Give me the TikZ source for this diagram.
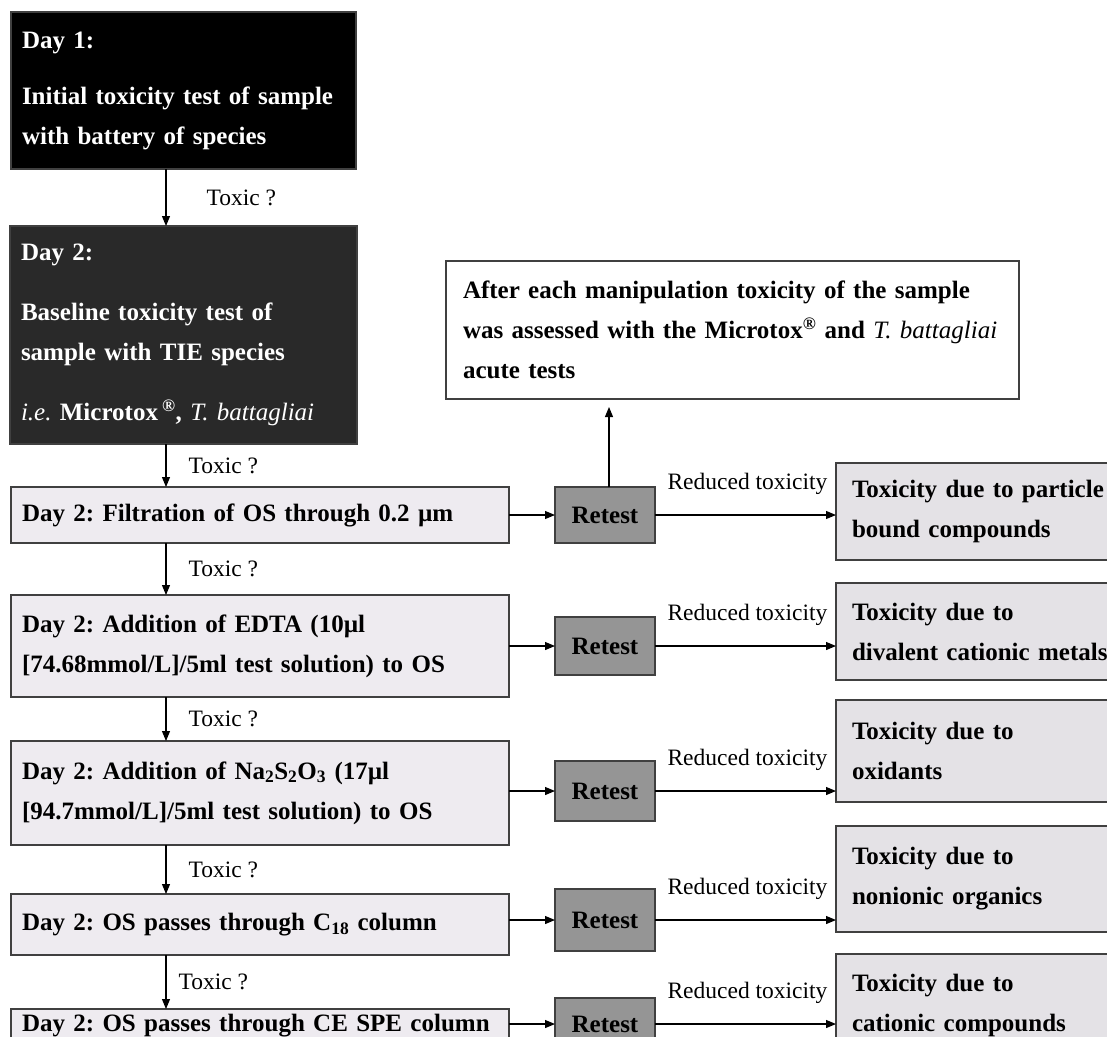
\documentclass[tikz,border=0pt]{standalone}
\usepackage{fontspec}
\setmainfont{Liberation Serif}
\usepackage{xcolor}
\usepackage{tikz}
\usetikzlibrary{arrows.meta}
\frenchspacing

\definecolor{dayfill}{HTML}{292929}
\definecolor{stepfill}{HTML}{EEEBF0}
\definecolor{retestfill}{HTML}{959595}
\definecolor{resultfill}{HTML}{E4E2E6}
\definecolor{edgegray}{HTML}{404040}

\begin{document}
\begin{tikzpicture}[x=1pt, y=-1pt,
    box/.style={draw=edgegray, line width=1.1pt, anchor=north west, outer sep=0pt,
      inner xsep=11pt, inner ysep=0pt, align=left,
      font=\bfseries\fontsize{25}{40}\selectfont},
    daybox/.style={box, fill=black, text=white},
    stepbox/.style={box, fill=stepfill, text width=476pt},
    retestbox/.style={box, fill=retestfill, align=center, inner xsep=0pt, minimum width=100pt},
    resultbox/.style={box, fill=resultfill, inner xsep=16pt, text width=270pt},
    notebox/.style={box, fill=white, inner xsep=17pt, text width=539pt},
    lbl/.style={font=\fontsize{23.5}{28}\selectfont, inner sep=0pt},
    arr/.style={-{Triangle[length=10pt,width=8pt]}, line width=1.1pt}]

    \useasboundingbox (0,0) rectangle (1107,1036);
    \clip (0,0) rectangle (1107,1036);

    % left column
    \node[daybox, text width=323pt, minimum height=157pt] (day1) at (11,12)
      {Day 1:\\[16pt]Initial toxicity test of sample\\with battery of species};
    \node[daybox, fill=dayfill, text width=325pt, minimum height=218pt] (day2) at (10,226)
      {Day 2:\\[20pt]Baseline toxicity test of\\sample with TIE species\\[20pt]%
       {\mdseries\itshape i.e.} Microtox\,\textsuperscript{®}, {\mdseries\itshape T. battagliai}};
    \node[stepbox, minimum height=56pt] (s1) at (11,487)
      {Day 2: Filtration of OS through 0.2 µm};
    \node[stepbox, minimum height=102pt] (s2) at (11,595)
      {Day 2: Addition of EDTA (10µl\\{[}74.68mmol/L{]}/5ml test solution) to OS};
    \node[stepbox, minimum height=104pt] (s3) at (11,741)
      {Day 2: Addition of Na\textsubscript{2}S\textsubscript{2}O\textsubscript{3} (17µl\\{[}94.7mmol/L{]}/5ml test solution) to OS};
    \node[stepbox, minimum height=61pt] (s4) at (11,894)
      {Day 2: OS passes through C\textsubscript{18} column};
    \node[stepbox, minimum height=34pt] (s5) at (11,1009)
      {Day 2: OS passes through CE SPE column};

    % retests
    \node[retestbox, minimum height=56pt] (r1) at (555,487) {Retest};
    \node[retestbox, minimum height=58pt] (r2) at (555,617) {Retest};
    \node[retestbox, minimum height=60pt] (r3) at (555,761) {Retest};
    \node[retestbox, minimum height=62pt] (r4) at (555,889) {Retest};
    \node[retestbox, minimum height=52pt] (r5) at (555,998) {Retest};

    % outcomes
    \node[resultbox, minimum height=97pt] (res1) at (836,463) {Toxicity due to particle\\bound compounds};
    \node[resultbox, minimum height=97pt] (res2) at (836,583) {Toxicity due to\\divalent cationic metals};
    \node[resultbox, minimum height=102pt] (res3) at (836,700) {Toxicity due to\\oxidants};
    \node[resultbox, minimum height=106pt] (res4) at (836,826) {Toxicity due to\\nonionic organics};
    \node[resultbox, minimum height=102pt] (res5) at (836,954) {Toxicity due to\\cationic compounds};

    \node[notebox, minimum height=138pt] (note) at (446,261)
      {After each manipulation toxicity of the sample\\was assessed with the Microtox\textsuperscript{®} and {\mdseries\itshape T. battagliai}\\acute tests};

    % down the left side
    \coordinate (spine) at (166,0);
    \draw[arr] (day1.south -| spine) -- (day2.north -| spine) node[lbl, midway, anchor=west, xshift=40pt] {Toxic ?};
    \draw[arr] (day2.south -| spine) -- (s1.north -| spine) node[lbl, midway, anchor=west, xshift=22pt] {Toxic ?};
    \draw[arr] (s1.south -| spine) -- (s2.north -| spine) node[lbl, midway, anchor=west, xshift=22pt] {Toxic ?};
    \draw[arr] (s2.south -| spine) -- (s3.north -| spine) node[lbl, midway, anchor=west, xshift=22pt] {Toxic ?};
    \draw[arr] (s3.south -| spine) -- (s4.north -| spine) node[lbl, midway, anchor=west, xshift=22pt] {Toxic ?};
    \draw[arr] (s4.south -| spine) -- (s5.north -| spine) node[lbl, midway, anchor=west, xshift=12pt] {Toxic ?};

    % to the retests and on
    \foreach \i in {1,...,5} {
      \draw[arr] (s\i.east |- r\i.west) -- (r\i.west);
      \draw[arr] (r\i.east) -- (r\i.east -| res\i.west)
        node[lbl, pos=1, anchor=base east, xshift=-8pt, yshift=26pt] {Reduced toxicity};
    }

    \coordinate (up) at ([xshift=4pt]r1.north);
    \draw[arr, shorten >=8pt] (up) -- (up |- note.south);
\end{tikzpicture}
\end{document}
